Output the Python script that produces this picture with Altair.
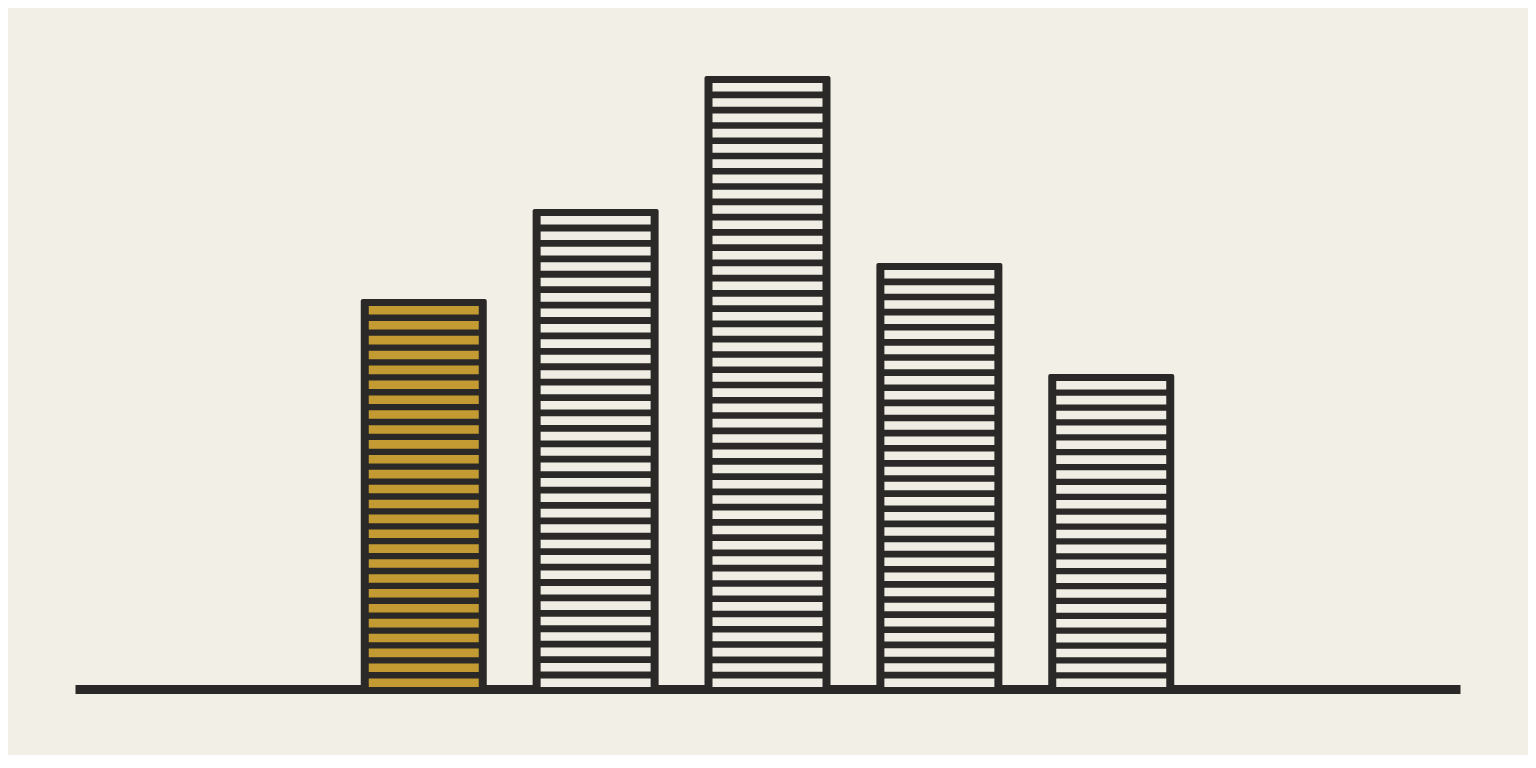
import altair as alt
import pandas as pd

# ---- data ----
categories = ["A", "B", "C", "D", "E"]
values = [390, 480, 613, 426, 315]
highlighted = ["A"]

# ---- styles ----
BG = "#f2efe6"
DARK = "#2a2927"
GOLD = "#c49b33"
LIGHT = "#f0ede5"

bars = pd.DataFrame({"idx": list(range(len(categories))), "cat": categories, "value": values})

# decorative horizontal stripes inside each bar, derived from the values
PERIOD, STRIPE, TOP_GAP, BOTTOM_GAP = 15.2, 8.6, 7.0, 2.0
rows = []
for i, (c, v) in enumerate(zip(categories, values)):
    avail = v - TOP_GAP - BOTTOM_GAP
    n = max(1, round((avail + (PERIOD - STRIPE)) / PERIOD))
    step = (avail - STRIPE) / (n - 1) if n > 1 else 0
    for k in range(n):
        top = v - TOP_GAP - k * step
        rows.append({"idx": i, "cat": c, "y0": top - STRIPE, "y1": top})
stripes = pd.DataFrame(rows)

xs = alt.Scale(domain=[-2, 6], nice=False, zero=False)
ys = alt.Scale(domain=[0, 650], nice=False)
xaxis = alt.Axis(labels=False, ticks=False, grid=False, title=None,
                 domain=True, domainColor=DARK, domainWidth=9, domainCap="butt")

outer = alt.Chart(bars).mark_bar(size=126, color=DARK, cornerRadius=2).encode(
    x=alt.X("idx:Q", scale=xs, axis=xaxis),
    y=alt.Y("value:Q", scale=ys, axis=None),
    y2=alt.datum(0),
)

inner = alt.Chart(stripes).mark_bar(size=110, cornerRadius=0).encode(
    x=alt.X("idx:Q", scale=xs, axis=xaxis),
    y=alt.Y("y0:Q", scale=ys, axis=None),
    y2="y1:Q",
    color=alt.condition(
        alt.FieldOneOfPredicate(field="cat", oneOf=highlighted),
        alt.value(GOLD), alt.value(LIGHT)),
)

chart = alt.layer(outer, inner).properties(
    width=1385, height=650,
    padding={"left": 67, "top": 31, "right": 68, "bottom": 66},
    background=BG,
).configure_view(stroke=None)

chart.save("out.html", embed_options={"renderer": "svg", "actions": False})
